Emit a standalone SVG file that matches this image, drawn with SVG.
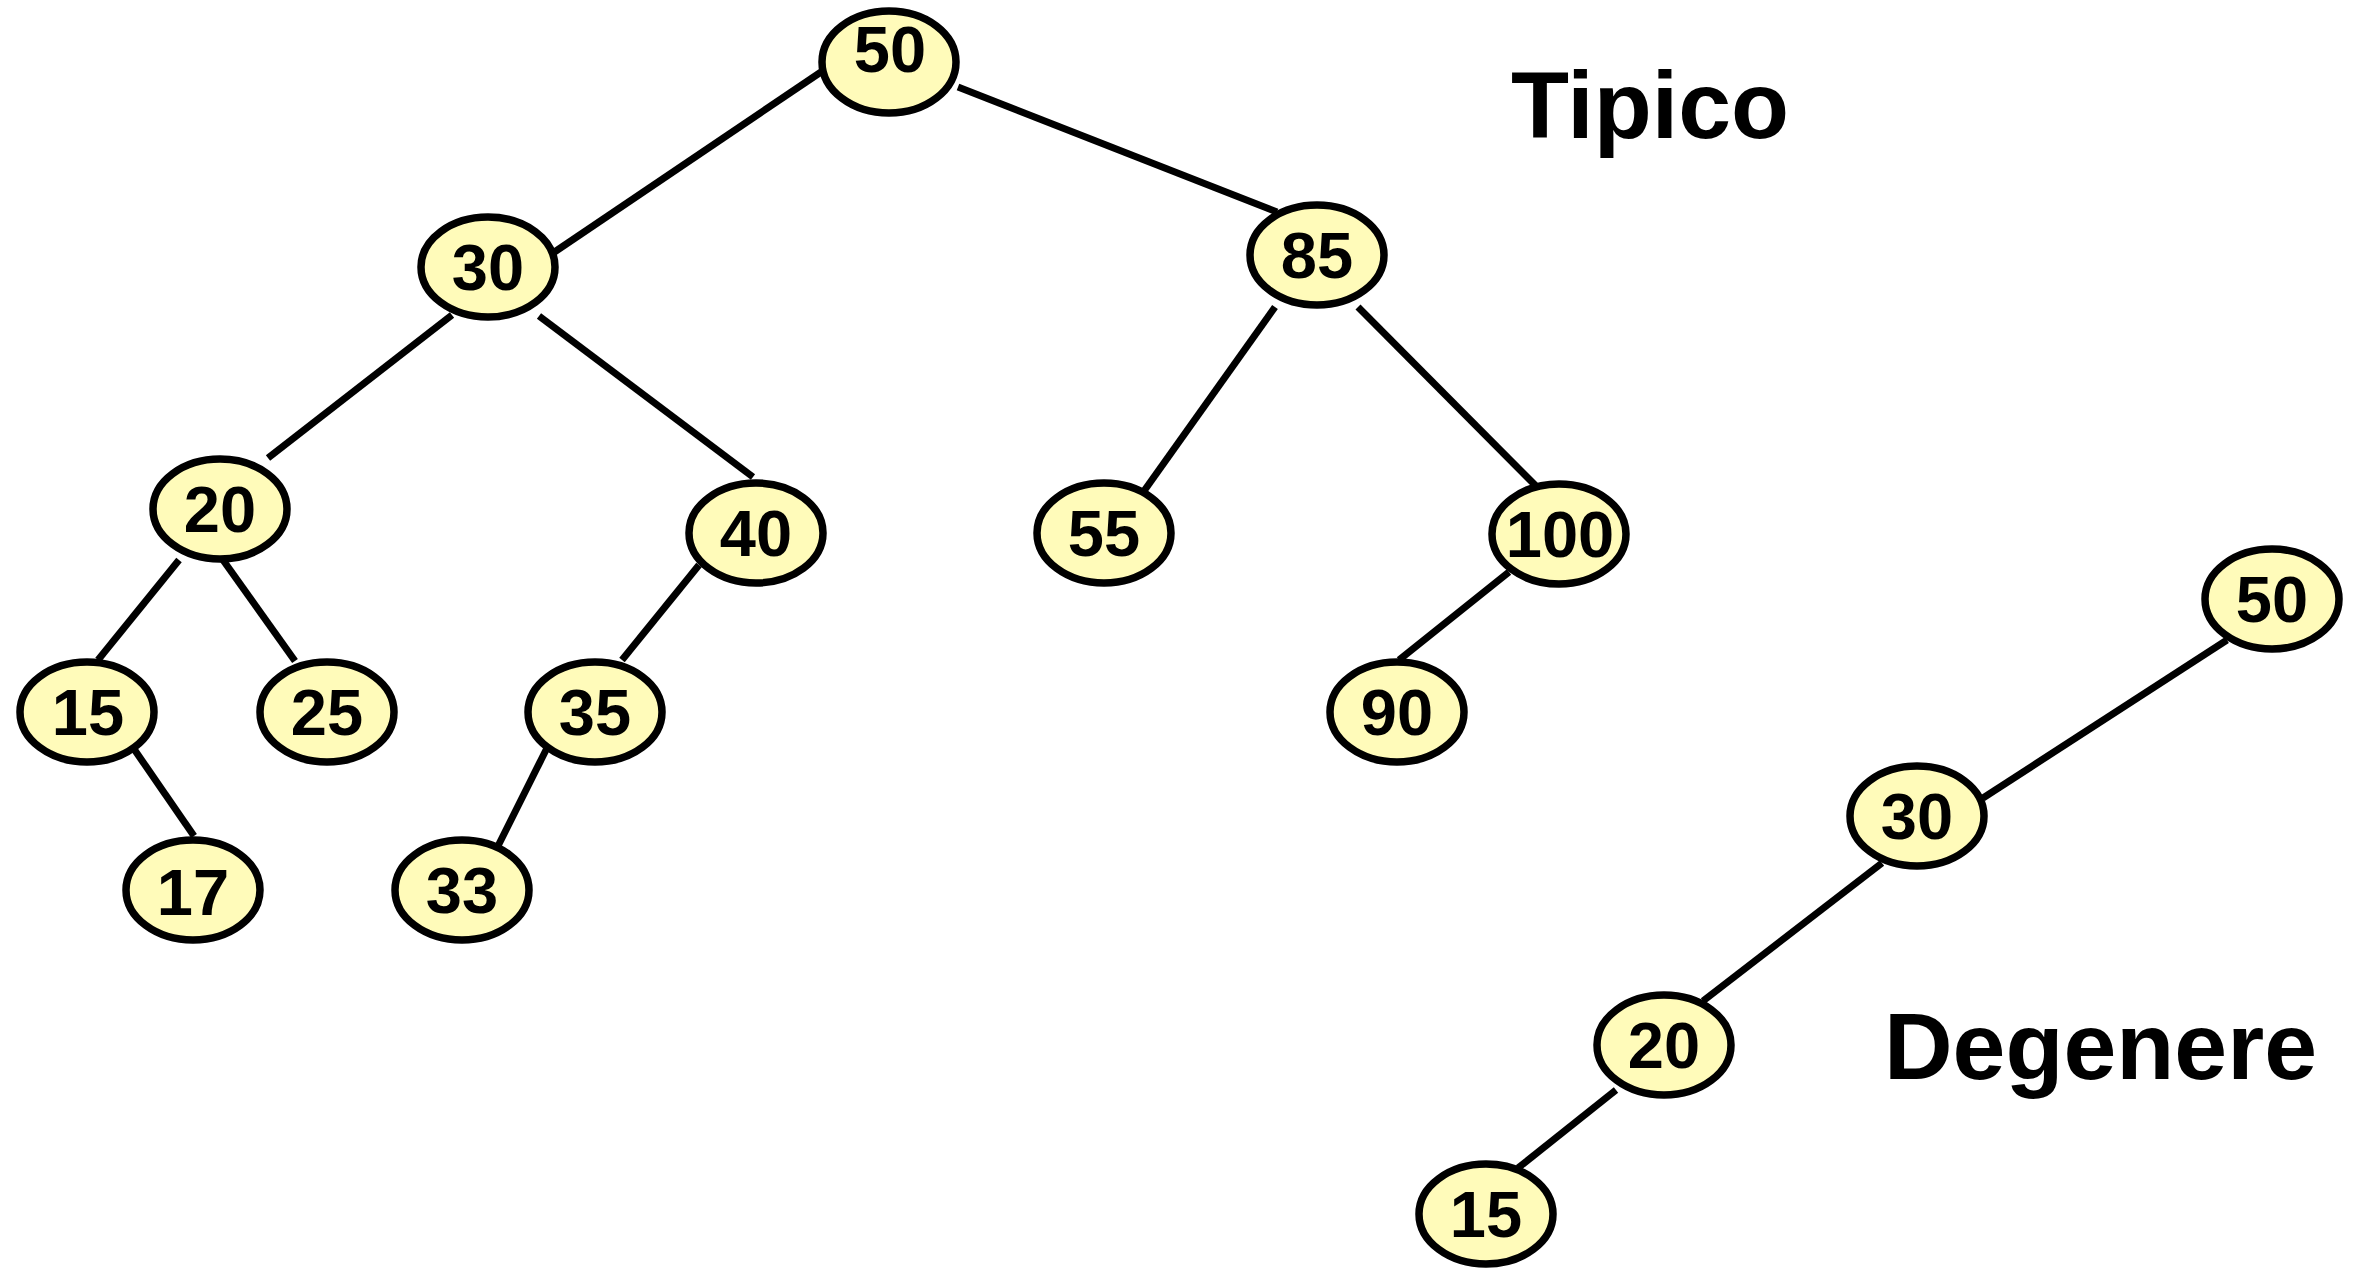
<svg xmlns="http://www.w3.org/2000/svg" width="2361" height="1270" viewBox="0 0 2361 1270">
  <style>
    .bg { fill: #ffffff; }
    .edge { stroke: #000000; stroke-width: 7; stroke-linecap: butt; fill: none; }
    .node ellipse { fill: #FFFBBA; stroke: #000000; stroke-width: 7.5; }
    .node text { font-family: "Liberation Sans", Arial, sans-serif; font-weight: bold; font-size: 65px; text-anchor: middle; fill: #000000; }
    .title { font-family: "Liberation Sans", Arial, sans-serif; font-weight: bold; font-size: 95px; fill: #000000; }
  </style>
  <rect class="bg" x="0" y="0" width="2361" height="1270"/>

  <!-- connectors -->
  <g id="edges">
    <line class="edge" x1="821" y1="72" x2="553" y2="253"/>
    <line class="edge" x1="958" y1="87" x2="1277" y2="212"/>
    <line class="edge" x1="452" y1="315" x2="268" y2="458"/>
    <line class="edge" x1="539" y1="316" x2="753" y2="477"/>
    <line class="edge" x1="1275" y1="307" x2="1144" y2="491"/>
    <line class="edge" x1="1358" y1="307" x2="1536" y2="486"/>
    <line class="edge" x1="179" y1="560" x2="98" y2="660"/>
    <line class="edge" x1="223" y1="560" x2="295" y2="661"/>
    <line class="edge" x1="699" y1="565" x2="622" y2="660"/>
    <line class="edge" x1="1509" y1="572" x2="1399" y2="660"/>
    <line class="edge" x1="134" y1="749" x2="194" y2="836"/>
    <line class="edge" x1="547" y1="748" x2="498" y2="846"/>
    <line class="edge" x1="2227" y1="640" x2="1983" y2="798"/>
    <line class="edge" x1="1882" y1="863" x2="1703" y2="1001"/>
    <line class="edge" x1="1616" y1="1090" x2="1518" y2="1168"/>
  </g>

  <!-- typical tree -->
  <g id="t50" class="node"><ellipse cx="889" cy="62" rx="67" ry="51"/><text x="890" y="72">50</text></g>
  <g id="t30" class="node"><ellipse cx="488" cy="267" rx="67" ry="50"/><text x="488" y="290">30</text></g>
  <g id="t85" class="node"><ellipse cx="1317" cy="255" rx="67" ry="50"/><text x="1317" y="278">85</text></g>
  <g id="t20" class="node"><ellipse cx="220" cy="509" rx="67" ry="50"/><text x="220" y="532">20</text></g>
  <g id="t40" class="node"><ellipse cx="756" cy="533" rx="67" ry="50"/><text x="756" y="556">40</text></g>
  <g id="t55" class="node"><ellipse cx="1104" cy="533" rx="67" ry="50"/><text x="1104" y="556">55</text></g>
  <g id="t100" class="node"><ellipse cx="1559" cy="534" rx="67" ry="50"/><text x="1560" y="557">100</text></g>
  <g id="t15" class="node"><ellipse cx="87" cy="712" rx="67" ry="50"/><text x="88" y="735">15</text></g>
  <g id="t25" class="node"><ellipse cx="327" cy="712" rx="67" ry="50"/><text x="327" y="735">25</text></g>
  <g id="t35" class="node"><ellipse cx="595" cy="712" rx="67" ry="50"/><text x="595" y="735">35</text></g>
  <g id="t90" class="node"><ellipse cx="1397" cy="712" rx="67" ry="50"/><text x="1397" y="735">90</text></g>
  <g id="t17" class="node"><ellipse cx="193" cy="890" rx="67" ry="50"/><text x="193" y="915">17</text></g>
  <g id="t33" class="node"><ellipse cx="462" cy="890" rx="67" ry="50"/><text x="462" y="913">33</text></g>

  <!-- degenerate tree -->
  <g id="d50" class="node"><ellipse cx="2272" cy="599" rx="67" ry="50"/><text x="2272" y="622">50</text></g>
  <g id="d30" class="node"><ellipse cx="1917" cy="816" rx="67" ry="50"/><text x="1917" y="839">30</text></g>
  <g id="d20" class="node"><ellipse cx="1664" cy="1045" rx="67" ry="50"/><text x="1664" y="1068">20</text></g>
  <g id="d15" class="node"><ellipse cx="1486" cy="1214" rx="67" ry="50"/><text x="1486" y="1237">15</text></g>

  <!-- labels -->
  <text class="title" x="1511" y="138">Tipico</text>
  <text class="title" x="1884" y="1079">Degenere</text>
</svg>
